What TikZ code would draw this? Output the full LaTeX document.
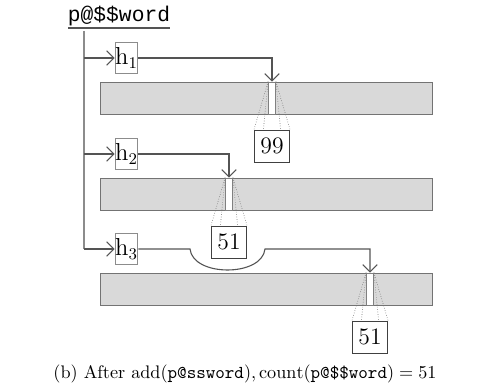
\documentclass[tikz,border=0pt]{standalone}
\usepackage{fontspec}
\newfontfamily\courier{Liberation Mono}
\usetikzlibrary{arrows.meta,calc}
\definecolor{linegray}{gray}{0.33}
\definecolor{boxgray}{gray}{0.55}
\definecolor{arrfill}{gray}{0.85}
\tikzset{
	link/.style={draw=linegray, line width=0.6pt, -{Straight Barb[length=4pt,width=8pt]}},
	hashbox/.style={draw=boxgray, line width=0.5pt, fill=white, inner sep=0pt, minimum width=12.1pt, minimum height=17pt, font=\fontsize{13.5}{15}\selectfont},
	table/.style={draw=gray!90!black, line width=0.5pt, fill=arrfill, inner sep=0pt, minimum width=182.6pt, minimum height=17.6pt},
	slot/.style={draw=gray, line width=0.4pt, fill=white, inner sep=0pt, minimum width=3.9pt, minimum height=17.6pt},
	valbox/.style={draw=black!75, line width=0.5pt, fill=white, inner sep=0pt, minimum width=19.3pt, minimum height=17.6pt, font=\fontsize{13}{15}\selectfont},
	zoomline/.style={draw=black!55, line width=0.35pt, densely dotted}
}
\begin{document}
\begin{tikzpicture}[x=0.55pt, y=-0.55pt]
	\useasboundingbox (0,0) rectangle (492,388);
	
	% key and spine
	\node[font=\courier\fontsize{11.7}{13}\selectfont, inner sep=0pt] (key) at (119,16) {p@\$\$word};
	\draw[linegray, line width=0.6pt] (68,28) -- (170,28);
	\coordinate (top) at (84,31);
	\coordinate (bottom) at (84,249);
	\draw[boxgray, line width=0.6pt] (top) -- (bottom);
	
	\foreach \i/\y/\s/\val in {1/58/272/99, 2/154/229/51, 3/249/370/51}
	{
		\node[hashbox] (h\i) at (126.5,\y) {h$_{\i}$};
		\node[table] (arr\i) at (266,\y+40) {};
		\node[slot] (slot\i) at (\s,\y+40) {};
		\node[valbox] (val\i) at (\s,\y+88) {\val};
		\coordinate (sp\i) at (84,\y);
		\draw[link] (sp\i) -- (h\i.west);
		\draw[zoomline] (slot\i.north west) -- (val\i.north west);
		\draw[zoomline] (slot\i.north west) -- ($(val\i.north west)!0.26!(val\i.north east)$);
		\draw[zoomline] (slot\i.north east) -- ($(val\i.north west)!0.74!(val\i.north east)$);
		\draw[zoomline] (slot\i.north east) -- (val\i.north east);
	}
	
	\draw[link] (h1.east) -| (slot1.north);
	\draw[link] (h2.east) -| (slot2.north);
	% jump below the 51 box
	\draw[link] (h3.east) -- (190,249) .. controls (193,277) and (262,277) .. (265,249) -| (slot3.north);
	
	\node (caption) at (245,374) {(b) After $\mathrm{add}(\texttt{p@ssword}), \mathrm{count}(\texttt{p@\$\$word}) = 51$};
\end{tikzpicture}
\end{document}
